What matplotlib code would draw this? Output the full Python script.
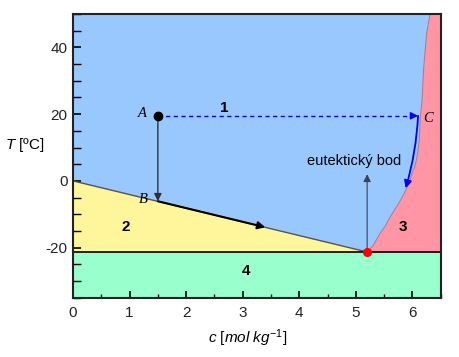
import matplotlib
matplotlib.use("Agg")
import matplotlib.pyplot as plt
from matplotlib.ticker import MultipleLocator

plt.rcParams['font.family'] = ['Liberation Sans', 'DejaVu Sans']
plt.rcParams['mathtext.fontset'] = 'custom'
plt.rcParams['mathtext.rm'] = 'Liberation Sans'
plt.rcParams['mathtext.it'] = 'Liberation Sans:italic'
plt.rcParams['axes.unicode_minus'] = False

# ---- data ----
eut_c, eut_T = 5.2, -21.3
freeze_c = [0.0, 5.2]
freeze_T = [0.0, -21.3]
sol_c = [5.20, 5.30, 5.43, 5.52, 5.61, 5.70, 5.79, 5.86, 5.91, 5.96, 5.99, 6.04, 6.07, 6.10, 6.12, 6.14, 6.17, 6.20, 6.25, 6.31]
sol_T = [-21.3, -19.5, -15.7, -13.5, -10.7, -8.3, -5.8, -3.6, -1.8, 0.2, 2.2, 4.2, 6.2, 9.2, 12.1, 19.1, 24.1, 34.0, 44.0, 50.0]
point_A = (1.5, 19.5)
point_B = (1.5, -6.1)
point_C = (6.1, 19.5)
arrow_B_end = (3.4, -13.9)
arrow_C_end = (5.88, -2.2)
eut_arrow_end_T = 2.0
region_labels = ['1', '2', '3', '4']
region_pos = [(2.67, 21.9), (0.94, -13.7), (5.83, -13.9), (3.06, -26.9)]
xlim = (0, 6.5)
ylim = (-35, 50)

c_blue = '#99c8ff'
c_yellow = '#fff59a'
c_pink = '#ff95a5'
c_green = '#99ffcc'

fig = plt.figure(figsize=(4.59, 3.57), dpi=100)
ax = fig.add_axes([73/459, 1-297.7/357, (440.7-73)/459, (297.7-14)/357])
ax.set_xlim(*xlim)
ax.set_ylim(*ylim)
ax.set_facecolor(c_blue)

# regions
ax.axhspan(ylim[0], eut_T, color=c_green, lw=0, zorder=1)
ax.fill_between(freeze_c, freeze_T, eut_T, color=c_yellow, lw=0, zorder=1)
ax.fill_betweenx(sol_T, sol_c, xlim[1], color=c_pink, lw=0, zorder=1)

# boundary lines
ax.plot(freeze_c, freeze_T, color='#555555', lw=1.0, zorder=2)
ax.plot(sol_c, sol_T, color='#c07080', lw=0.7, zorder=2)
ax.axhline(eut_T, color='black', lw=1.2, zorder=3)

# arrow A -> B
ax.annotate('', xy=point_B, xytext=point_A,
            arrowprops=dict(arrowstyle='-|>', color='#303030', lw=1.0,
                            mutation_scale=11, shrinkA=0, shrinkB=0), zorder=4)
# arrow along freezing line
ax.annotate('', xy=arrow_B_end, xytext=point_B,
            arrowprops=dict(arrowstyle='-|>', color='black', lw=1.5,
                            mutation_scale=11, shrinkA=0, shrinkB=0), zorder=4)
# dashed A -> C
ax.plot([point_A[0], point_C[0] - 0.1], [point_A[1], point_C[1]],
        color='#0000ee', lw=1.0, ls=(0, (3, 2.5)), zorder=4)
ax.annotate('', xy=point_C, xytext=(point_C[0] - 0.12, point_C[1]),
            arrowprops=dict(arrowstyle='-|>', color='#0000ee', lw=1.0,
                            mutation_scale=11, shrinkA=0, shrinkB=0), zorder=4)
# curved arrow from C down
ax.annotate('', xy=arrow_C_end, xytext=point_C,
            arrowprops=dict(arrowstyle='-|>', color='#0000ee', lw=1.3,
                            mutation_scale=11, shrinkA=0, shrinkB=0,
                            connectionstyle='arc3,rad=-0.06'), zorder=4)
# eutectic arrow
ax.annotate('', xy=(eut_c, eut_arrow_end_T), xytext=(eut_c, eut_T),
            arrowprops=dict(arrowstyle='-|>', color='#404050', lw=0.8,
                            mutation_scale=11, shrinkA=0, shrinkB=0), zorder=4)

# points
ax.plot(*point_A, 'o', color='black', ms=6, zorder=5)
ax.plot(eut_c, eut_T, 'o', color='#ff0000', ms=5.5, zorder=5)

# labels
ax.text(point_A[0] - 0.2, point_A[1] + 0.6, 'A', family='Liberation Serif', style='italic',
        fontsize=10.5, ha='right', va='center', zorder=6)
ax.text(point_B[0] - 0.26, point_B[1] + 0.4, 'B', family='Liberation Serif', style='italic',
        fontsize=10.5, ha='center', va='center', zorder=6)
ax.text(point_C[0] + 0.09, point_C[1] - 0.8, 'C', family='Liberation Serif', style='italic',
        fontsize=10.5, ha='left', va='center', zorder=6)
ax.text(4.97, 4.8, 'eutektický bod', fontsize=10.5, ha='center', va='baseline', zorder=6)
for lab, (x, y) in zip(region_labels, region_pos):
    ax.text(x, y, lab, fontsize=11, fontweight='bold', ha='center', va='center', zorder=6)

# axes styling
ax.xaxis.set_major_locator(MultipleLocator(1))
ax.xaxis.set_minor_locator(MultipleLocator(0.5))
ax.yaxis.set_major_locator(MultipleLocator(20))
ax.yaxis.set_minor_locator(MultipleLocator(5))
ax.tick_params(which='both', direction='in', colors='black', labelsize=11,
               top=False, right=False)
ax.tick_params(axis='x', which='major', length=5, width=1.2, pad=6)
ax.tick_params(axis='x', which='minor', length=3, width=1.0)
ax.tick_params(axis='y', which='major', length=6, width=1.2, pad=4)
ax.tick_params(axis='y', which='minor', length=6, width=1.0)
for lab in ax.get_xticklabels() + ax.get_yticklabels():
    lab.set_color('#222222')
for s in ax.spines.values():
    s.set_linewidth(1.5)
    s.set_color('#222222')
    s.set_zorder(7)

fig.text(25/459, 1-145/357, '$T$ [ºC]', fontsize=11, ha='center', va='center')
fig.text(248/459, 1-338/357, r'$c$ [$mol\ kg^{-1}$]', fontsize=11, ha='center', va='center')

fig.savefig('out.png', dpi=100)
